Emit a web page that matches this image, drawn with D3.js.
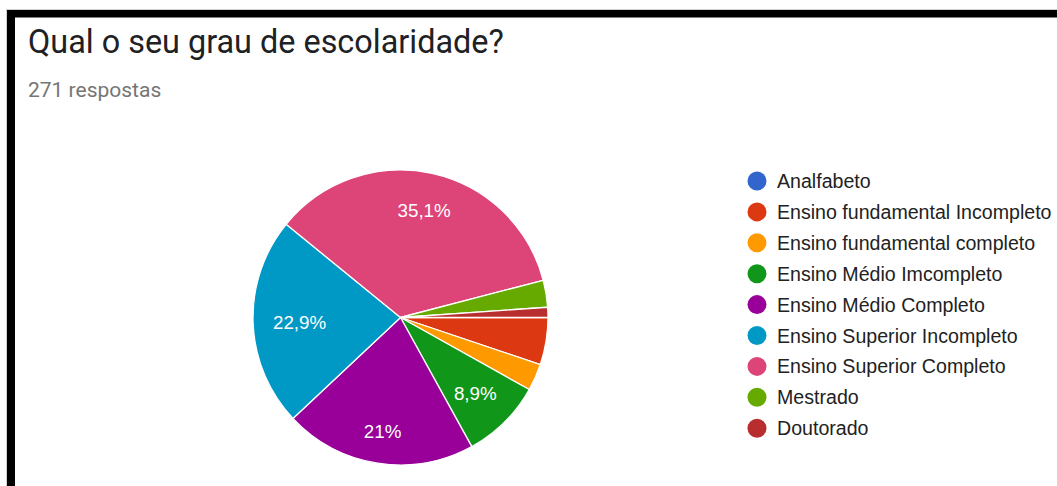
<!DOCTYPE html>
<html>
<head>
<meta charset="utf-8">
<script src="https://cdn.jsdelivr.net/npm/d3@7"></script>
<style>
  html, body { margin: 0; padding: 0; background: #fff; }
  svg { display: block; }
</style>
</head>
<body>
<svg id="chart" width="1057" height="486"></svg>
<script>
// ---- data ----
const titleText = "Qual o seu grau de escolaridade?";
const subtitleText = "271 respostas";
const categories = [
  "Analfabeto",
  "Ensino fundamental Incompleto",
  "Ensino fundamental completo",
  "Ensino Médio Imcompleto",
  "Ensino Médio Completo",
  "Ensino Superior Incompleto",
  "Ensino Superior Completo",
  "Mestrado",
  "Doutorado"
];
const counts = [0, 14, 8, 24, 57, 62, 95, 8, 3];
const colors = ["#3366cc", "#dc3912", "#ff9900", "#109618", "#990099", "#0099c6", "#dd4477", "#66aa00", "#b82e2e"];

// ---- layout ----
const W = 1057, H = 486;
const svg = d3.select("#chart");

// frame (black bars of the screenshot)
svg.append("rect").attr("x", 6).attr("y", 9).attr("width", W - 6).attr("height", 1).attr("fill", "#d0d0d0");
svg.append("rect").attr("x", 6).attr("y", 9).attr("width", 1).attr("height", H - 9).attr("fill", "#d0d0d0");
svg.append("rect").attr("x", 7).attr("y", 10).attr("width", W - 7).attr("height", 7.5).attr("fill", "#000");
svg.append("rect").attr("x", 7).attr("y", 10).attr("width", 8).attr("height", H - 10).attr("fill", "#000");

// title + subtitle
svg.append("text")
  .attr("x", 28).attr("y", 53)
  .attr("font-family", "Roboto, sans-serif")
  .attr("font-size", 32.4)
  .attr("fill", "#202124")
  .text(titleText);
svg.append("text")
  .attr("x", 28).attr("y", 97)
  .attr("font-family", "Roboto, sans-serif")
  .attr("font-size", 21)
  .attr("fill", "#757575")
  .text(subtitleText);

// pie
const cx = 400.5, cy = 317.5, R = 147.5;
const total = d3.sum(counts);
const data = categories.map((c, i) => ({ name: c, value: counts[i], color: colors[i] }));
const pie = d3.pie().value(d => d.value).sort(null)
  .startAngle(Math.PI / 2).endAngle(Math.PI / 2 + 2 * Math.PI);
const arcs = pie(data);
const arc = d3.arc().innerRadius(0).outerRadius(R);

const g = svg.append("g").attr("transform", `translate(${cx},${cy})`);
g.selectAll("path.slice")
  .data(arcs.filter(a => a.data.value > 0))
  .join("path")
  .attr("class", "slice")
  .attr("d", arc)
  .attr("fill", d => d.data.color)
  .attr("stroke", "#fff")
  .attr("stroke-width", 1.3)
  .attr("stroke-linejoin", "round");

const fmt = v => {
  let s = d3.format(".1f")(v * 100).replace(".", ",");
  if (s.endsWith(",0")) s = s.slice(0, -2);
  return s + "%";
};

const labelR = R * 0.87;
arcs.filter(a => a.data.value / total >= 0.07).forEach(a => {
  const t = g.append("text")
    .attr("font-family", "'Liberation Sans', Arial, sans-serif")
    .attr("font-size", 18.8)
    .attr("fill", "#fff")
    .attr("text-anchor", "middle")
    .attr("dominant-baseline", "central")
    .text(fmt(a.data.value / total));
  const bb = t.node().getBBox();
  const hw = bb.width / 2, hh = 9.5;
  const mid = (a.startAngle + a.endAngle) / 2;
  const ux = Math.sin(mid), uy = -Math.cos(mid);
  const b = Math.abs(ux) * hw + Math.abs(uy) * hh;
  const d = -b + Math.sqrt(b * b - (hw * hw + hh * hh - labelR * labelR));
  t.attr("x", d * ux).attr("y", d * uy + 1);
});

// legend
const legend = svg.append("g").attr("transform", "translate(757,181)");
const rowH = 30.9;
const items = legend.selectAll("g.item").data(data).join("g")
  .attr("class", "item")
  .attr("transform", (d, i) => `translate(0,${i * rowH})`);
items.append("circle").attr("r", 9.5).attr("fill", d => d.color);
items.append("text")
  .attr("x", 20).attr("y", 0)
  .attr("dominant-baseline", "central")
  .attr("font-family", "'Liberation Sans', Arial, sans-serif")
  .attr("font-size", 19.6)
  .attr("fill", "#222")
  .text(d => d.name);
</script>
</body>
</html>
